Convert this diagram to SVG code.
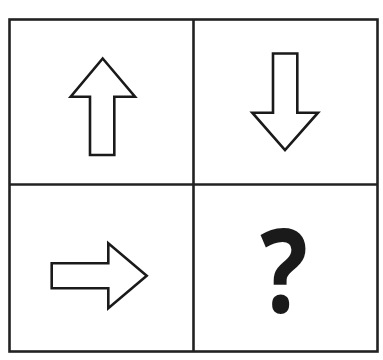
<svg xmlns="http://www.w3.org/2000/svg" width="383" height="360" viewBox="0 0 383 360">
<style>
.grid{fill:none;stroke:#222;stroke-width:2.6}
.arrow{fill:#fff;stroke:#1a1a1a;stroke-width:2.6;stroke-linejoin:miter}
.q{font-family:"Open Sans","Noto Sans",sans-serif;font-weight:bold;fill:#1a1a1a}
</style>
<rect width="383" height="360" fill="#fff"/>
<g id="grid">
<rect class="grid" x="9.5" y="19.5" width="368" height="332"/>
<line class="grid" x1="193.5" y1="19.5" x2="193.5" y2="351.5"/>
<line class="grid" x1="9.5" y1="184.5" x2="377.5" y2="184.5"/>
</g>
<g id="up-arrow">
<polygon class="arrow" points="102.7,58.5 135,96.7 114.3,96.7 114.3,155 90,155 90,96.7 70.7,96.7"/>
</g>
<g id="down-arrow">
<polygon class="arrow" points="273,53.5 297.3,53.5 297.3,112.7 318,112.7 285,150 252.3,112.7 273,112.7"/>
</g>
<g id="right-arrow">
<polygon class="arrow" points="51.7,263.3 108.3,263.3 108.3,243.3 146.7,275.7 108.3,308.3 108.3,288.3 51.7,288.3"/>
</g>
<g id="question">
<text class="q" x="284" y="312.3" font-size="116" text-anchor="middle" transform="translate(284 0) scale(0.86 1) translate(-284 0)">?</text>
</g>
</svg>
